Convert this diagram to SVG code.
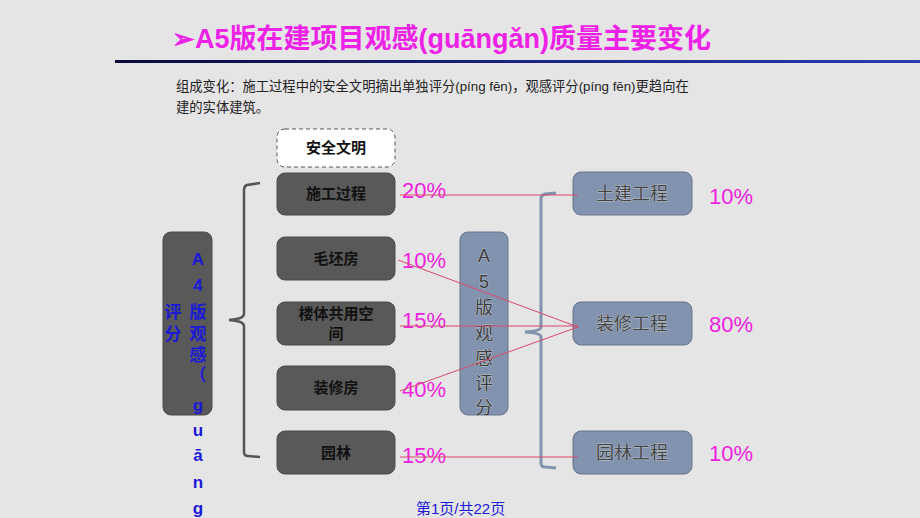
<svg xmlns="http://www.w3.org/2000/svg" width="920" height="518" viewBox="0 0 920 518">
<defs>
<linearGradient id="ul" x1="0" y1="0" x2="1" y2="0">
<stop offset="0" stop-color="#0b0b3a"/><stop offset="0.5" stop-color="#1a237e"/><stop offset="1" stop-color="#2b3bb0"/>
</linearGradient>
<style>
.cjk{font-family:"Liberation Sans","Noto Sans CJK SC",sans-serif}
.lb{fill:#595959;stroke:#4a4a4a;stroke-width:1}
.lt{font-size:15px;font-weight:bold;fill:#111;text-anchor:middle}
.rb{fill:#8193ae;stroke:#66758c;stroke-width:1}
.rt{font-size:18px;fill:#444;text-anchor:middle;stroke:#f0f0f0;stroke-width:0.4;paint-order:stroke}
.pc{font-size:22px;fill:#ee22dd}
.red{stroke:#d84a6a;stroke-width:1;fill:none}
.bl{font-size:17px;font-weight:bold;fill:#1a1ad6;text-anchor:middle}
.mv{font-size:18px;fill:#3a3a3a;text-anchor:middle;stroke:#eeeeee;stroke-width:0.5;paint-order:stroke}
</style>
</defs>
<rect width="920" height="518" fill="#e6e5e6"/>
<g id="title">
<text x="172" y="48" class="cjk" font-size="27" font-weight="bold" fill="#ee22e6">➢A5版在建项目观感(guāngǎn)质量主要变化</text>
<rect x="115" y="60" width="805" height="3" fill="url(#ul)"/>
</g>
<g id="desc" class="cjk" font-size="13.3" fill="#222">
<text x="176" y="91">组成变化：施工过程中的安全文明摘出单独评分(píng fēn)，观感评分(píng fēn)更趋向在</text>
<text x="176" y="112">建的实体建筑。</text>
</g>
<g id="n_anquan">
<rect x="277" y="129" width="118" height="38" rx="8" fill="#ffffff" stroke="#555" stroke-width="1" stroke-dasharray="4,3"/>
<text x="336" y="153" class="cjk lt">安全文明</text>
</g>
<g id="n_sg"><rect class="lb" x="277" y="173" width="118" height="42" rx="8"/><text x="336" y="199" class="cjk lt">施工过程</text></g>
<g id="n_mp"><rect class="lb" x="277" y="237" width="118" height="43" rx="8"/><text x="336" y="264" class="cjk lt">毛坯房</text></g>
<g id="n_lt"><rect class="lb" x="277" y="302" width="118" height="43" rx="8"/><text x="336" y="319" class="cjk lt">楼体共用空</text><text x="336" y="339" class="cjk lt">间</text></g>
<g id="n_zx"><rect class="lb" x="277" y="366" width="118" height="44" rx="8"/><text x="336" y="393" class="cjk lt">装修房</text></g>
<g id="n_yl"><rect class="lb" x="277" y="431" width="118" height="43" rx="8"/><text x="336" y="458" class="cjk lt">园林</text></g>
<g id="n_a4">
<rect class="lb" x="163" y="232" width="49" height="183" rx="8"/>
<g class="cjk bl">
<text x="198" y="265">A</text><text x="198" y="291">4</text>
<text x="198" y="318">版</text><text x="198" y="340">观</text><text x="198" y="361">感</text><text x="198" y="381">（</text>
<text x="198" y="411">g</text><text x="198" y="436">u</text><text x="198" y="461">ā</text><text x="198" y="488">n</text><text x="198" y="514">g</text>
<text x="173" y="318">评</text><text x="173" y="340">分</text>
</g>
</g>
<g id="n_a5">
<rect class="rb" x="460" y="232" width="48" height="183" rx="8"/>
<g class="cjk mv">
<text x="484" y="262">A</text><text x="484" y="288">5</text><text x="484" y="314">版</text><text x="484" y="340">观</text><text x="484" y="365">感</text><text x="484" y="390">评</text><text x="484" y="414">分</text>
</g>
</g>
<g id="n_tj"><rect class="rb" x="573" y="172" width="119" height="43" rx="8"/><text x="632" y="200" class="cjk rt">土建工程</text></g>
<g id="n_zxgc"><rect class="rb" x="573" y="302" width="119" height="43" rx="8"/><text x="632" y="330" class="cjk rt">装修工程</text></g>
<g id="n_ylgc"><rect class="rb" x="573" y="431" width="119" height="43" rx="8"/><text x="632" y="459" class="cjk rt">园林工程</text></g>
<g id="percents" class="cjk pc">
<text x="402" y="198">20%</text>
<text x="402" y="268">10%</text>
<text x="402" y="328">15%</text>
<text x="402" y="397">40%</text>
<text x="402" y="463">15%</text>
<text x="709" y="204">10%</text>
<text x="709" y="332">80%</text>
<text x="709" y="461">10%</text>
</g>
<g id="connectors">
<path d="M260,183 L247,185 Q244,186 244,190 L244,314 Q244,319 229,320 Q244,321 244,326 L244,452 Q244,456 248,456 L260,457" fill="none" stroke="#555" stroke-width="2.5"/>
<path d="M556,193 L545,194 Q541,195 541,199 L541,327 Q541,331 525,332 Q541,333 541,337 L541,463 Q541,467 545,467 L556,468" fill="none" stroke="#8193ae" stroke-width="3"/>
<line class="red" x1="400" y1="195" x2="578" y2="195"/>
<line class="red" x1="398" y1="260" x2="578" y2="327"/>
<line class="red" x1="400" y1="326" x2="578" y2="326"/>
<line class="red" x1="400" y1="391" x2="578" y2="327"/>
<line class="red" x1="400" y1="457" x2="578" y2="457"/>
</g>
<g id="footer"><text x="416" y="514" class="cjk" font-size="15" fill="#1a1ad6">第1页/共22页</text></g>
</svg>
